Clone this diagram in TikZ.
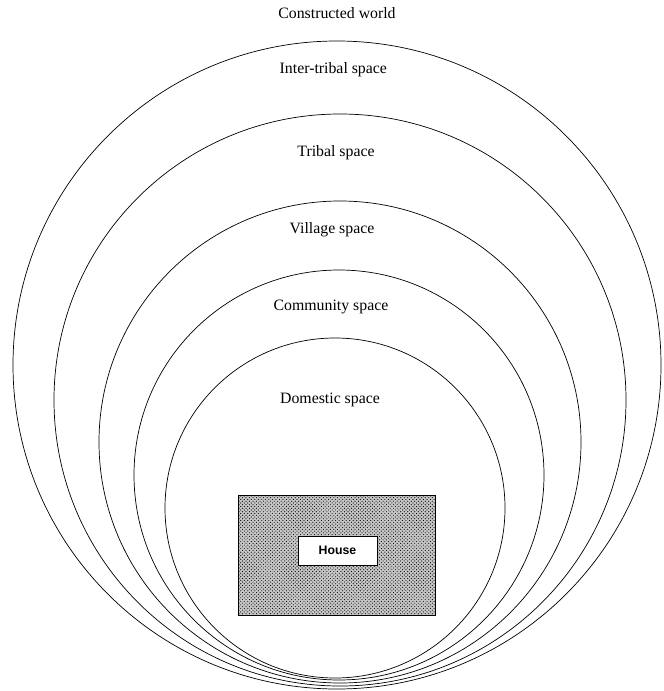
\documentclass[tikz,border=0pt]{standalone}
\usepackage{fontspec}
\setmainfont{Liberation Serif}
\newfontfamily\housefont{Liberation Sans}
\usetikzlibrary{patterns}

\begin{document}
\begin{tikzpicture}

        % Définition des styles
        \tikzset{
            ring/.style={draw, semithick, circle, inner sep=0pt},
            zone/.style={font=\fontsize{13.5}{16}\selectfont},
            yard/.style={draw, semithick, preaction={fill=black!22}, pattern=crosshatch dots, minimum width=5.91cm, minimum height=3.6cm},
            housebox/.style={draw, semithick, fill=white, minimum width=2.37cm, minimum height=0.87cm, font=\housefont\bfseries\fontsize{10.5}{12}\selectfont}
        }

        \useasboundingbox (0,0) rectangle (19.89,-20.73);

        % --- CERCLES EMBOITES ---
        \node[ring, minimum size=19.44cm] (world) at (10.11,-10.95) {};
        \node[ring, minimum size=17.16cm] (inter) at (10.20,-12.00) {};
        \node[ring, minimum size=14.46cm] (tribe) at (10.20,-13.26) {};
        \node[ring, minimum size=12.30cm] (village) at (10.17,-14.25) {};
        \node[ring, minimum size=10.20cm] (commun) at (10.05,-15.24) {};

        % --- ETIQUETTES ---
        \node[zone] (lworld) at (10.11,-0.39) {Constructed world};
        \node[zone] (linter) at (10.00,-2.10) {Inter-tribal space};
        \node[zone] (ltribe) at (10.08,-4.59) {Tribal space};
        \node[zone] (lvillage) at (9.96,-6.90) {Village space};
        \node[zone] (lcommun) at (9.93,-9.21) {Community space};
        \node[zone] (lhome) at (9.90,-12.00) {Domestic space};

        % --- MAISON ---
        \node[yard] (plotarea) at (10.095,-16.65) {};
        \node[housebox] (house) at (10.125,-16.515) {House};

    \end{tikzpicture}
\end{document}
